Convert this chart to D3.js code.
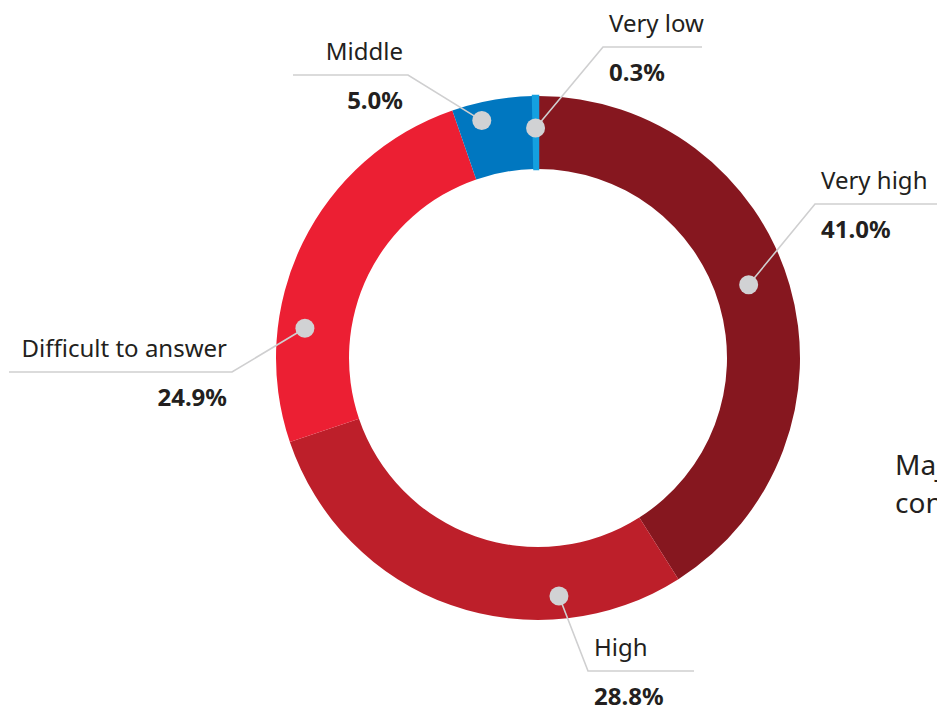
<!DOCTYPE html>
<html lang="en">

<head>
    <meta charset="UTF-8">
    <title>Donut</title>
    <style>
        body {
            margin: 0;
            overflow: hidden;
            background: #fff;
        }

        text {
            font-family: "Noto Sans", "Open Sans", sans-serif;
            fill: #231f20;
        }
    </style>
</head>

<body>
    <div id="container"></div>

    <script src="https://cdn.jsdelivr.net/npm/d3@7"></script>
    <script>
        // Answers and their shares, in percent
        var categories = ["Very high", "High", "Difficult to answer", "Middle", "Very low"];
        var shares = [41.0, 28.8, 24.9, 5.0, 0.3];
        var sliceColors = ["#86171f", "#bd1f2a", "#ec1f33", "#0077c0", "#14a0e0"];

        // Where each callout sits: dot position inside its slice (fraction of the
        // slice angle + radius), the elbow of the leader, the end of the rule and
        // which side the text hangs on.
        var callouts = [
            { t: 0.48, r: 223, elbow: [815, 204], end: 940, side: "right" },
            { t: 0.264, r: 239, elbow: [588, 671], end: 694, side: "right" },
            { t: 0.29, r: 235, elbow: [232, 372], end: 9, side: "left" },
            { t: 0.32, r: 244, elbow: [408, 75], end: 293, side: "left" },
            { t: 0.44, r: 230, elbow: [603, 47], end: 702, side: "right" }
        ];

        var width = 937,
            height = 712,
            cx = 538,
            cy = 358;

        var svg = d3.select("#container")
            .append("svg")
            .attr("width", width)
            .attr("height", height);

        var pie = d3.pie()
            .sort(null)
            .value(function (d) { return d; });

        var arcs = pie(shares);

        var arcPath = d3.arc()
            .innerRadius(189)
            .outerRadius(262);

        var color = d3.scaleOrdinal()
            .domain(categories)
            .range(sliceColors);

        var ring = svg.append("g")
            .attr("transform", "translate(" + cx + "," + cy + ")");

        ring.selectAll("path")
            .data(arcs)
            .enter()
            .append("path")
            .attr("d", arcPath)
            .attr("fill", function (d, i) { return color(categories[i]); })
            // very thin slices get an outline in their own colour so they stay visible
            .attr("stroke", function (d, i) { return d.value < 1 ? color(categories[i]) : "none"; })
            .attr("stroke-width", 2.5);

        // Callouts: leader line, dot, name above the rule and value below it
        var labels = svg.append("g");

        arcs.forEach(function (a, i) {
            var c = callouts[i];
            var ang = a.startAngle + c.t * (a.endAngle - a.startAngle);
            var dx = cx + c.r * Math.sin(ang),
                dy = cy - c.r * Math.cos(ang);

            labels.append("path")
                .attr("d", d3.line()([[dx, dy], c.elbow, [c.end, c.elbow[1]]]))
                .attr("fill", "none")
                .attr("stroke", "#cfcfd0")
                .attr("stroke-width", 1.6);

            labels.append("circle")
                .attr("cx", dx)
                .attr("cy", dy)
                .attr("r", 9.5)
                .attr("fill", "#d1d2d4");

            var tx = c.side === "right" ? c.elbow[0] + 6 : c.elbow[0] - 5;
            var anchor = c.side === "right" ? "start" : "end";

            labels.append("text")
                .attr("x", tx)
                .attr("y", c.elbow[1] - 15)
                .attr("text-anchor", anchor)
                .style("font-size", "24px")
                .text(categories[i]);

            labels.append("text")
                .attr("x", tx)
                .attr("y", c.elbow[1] + 34)
                .attr("text-anchor", anchor)
                .style("font-size", "24px")
                .style("font-weight", "bold")
                .text(d3.format(".1f")(shares[i]) + "%");
        });

        // Side note running off the right edge
        svg.append("text")
            .attr("x", 895)
            .attr("y", 475)
            .style("font-size", "28px")
            .selectAll("tspan")
            .data(["Majority", "consider"])
            .enter()
            .append("tspan")
            .attr("x", 895)
            .attr("dy", function (d, i) { return i ? 38 : 0; })
            .text(function (d) { return d; });
    </script>
</body>

</html>
